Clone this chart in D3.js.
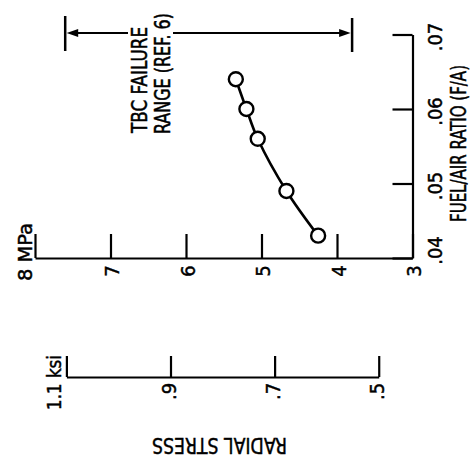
<!DOCTYPE html>
<html>
<head>
<meta charset="utf-8">
<script src="https://cdn.jsdelivr.net/npm/d3@7"></script>
<style>
  html, body { margin: 0; padding: 0; background: #fff; }
  svg { display: block; }
  text { fill: #000; stroke: #000; stroke-width: 0.45px; }
</style>
</head>
<body>
<svg id="chart" width="474" height="466"></svg>
<script>
// ---- data ----
const fuelAirRatio = [0.043, 0.049, 0.056, 0.060, 0.064];
const radialStressMPa = [4.25, 4.67, 5.05, 5.20, 5.34];
const mpaTicks = [8, 7, 6, 5, 4, 3];
const mpaTickLabels = ["8 MPa", "7", "6", "5", "4", "3"];
const ksiTicks = [1.1, 0.9, 0.7, 0.5];
const ksiTickLabels = ["1.1 ksi", ".9", ".7", ".5"];
const faTicks = [0.04, 0.05, 0.06, 0.07];
const faTickLabels = [".04", ".05", ".06", ".07"];
const tbcRangeMPa = [7.6, 3.8];
const tbcFA = 0.0702;
const KSI_PER_MPA = 0.145038;

// ---- layout ----
const svg = d3.select("#chart");
const FONT = "'DejaVu Sans Condensed', 'Liberation Sans Narrow', 'Liberation Sans', sans-serif";

const xS = d3.scaleLinear().domain([8, 3]).range([35, 412.5]);
const yF = d3.scaleLinear().domain([0.04, 0.07]).range([258, 34.5]);
const xK = d3.scaleLinear().domain([1.1, 0.5])
  .range([xS(1.1 / KSI_PER_MPA), xS(0.5 / KSI_PER_MPA)]);

function styleAxis(g) {
  g.select(".domain").attr("stroke", "#000").attr("stroke-width", 2.2);
  g.selectAll(".tick line").attr("stroke", "#000").attr("stroke-width", 2.2);
}

// MPa axis (horizontal, ticks upward)
const gS = svg.append("g").attr("transform", "translate(0,258)")
  .call(d3.axisBottom(xS).tickValues(mpaTicks).tickSizeInner(-24).tickSizeOuter(0)
    .tickFormat((d, i) => mpaTickLabels[i]));
styleAxis(gS);
gS.selectAll(".tick text")
  .attr("font-family", FONT).attr("font-size", 20).attr("fill", "#000")
  .attr("x", 0).attr("y", 0).attr("dy", "0.36em")
  .attr("text-anchor", (d, i) => i === 0 ? "start" : "middle")
  .attr("transform", (d, i) => i === 0 ? "translate(-11,23) rotate(-90)" : "translate(1,13) rotate(-90)")
  .each(function (d, i) { if (i === 0) d3.select(this).attr("textLength", 58).attr("lengthAdjust", "spacingAndGlyphs"); });

// F/A axis (vertical, ticks leftward)
const gF = svg.append("g").attr("transform", `translate(${xS(3)},0)`)
  .call(d3.axisRight(yF).tickValues(faTicks).tickSizeInner(-20).tickSizeOuter(0)
    .tickFormat((d, i) => faTickLabels[i]));
styleAxis(gF);
gF.selectAll(".tick text")
  .attr("font-family", FONT).attr("font-size", 20).attr("fill", "#000")
  .attr("x", 0).attr("y", 0).attr("dy", "0.36em").attr("text-anchor", "middle")
  .attr("transform", (d, i) => i === 0 ? "translate(22,-8) rotate(-90)" : "translate(22,2) rotate(-90)");

// FUEL/AIR label
svg.append("text")
  .attr("transform", "translate(466,222) rotate(-90)")
  .attr("font-family", FONT).attr("font-size", 21)
  .attr("textLength", 157).attr("lengthAdjust", "spacingAndGlyphs")
  .text("FUEL/AIR RATIO (F/A)");

// ksi axis
const gK = svg.append("g").attr("transform", "translate(0,377)")
  .call(d3.axisBottom(xK).tickValues(ksiTicks).tickSizeInner(-21).tickSizeOuter(0)
    .tickFormat((d, i) => ksiTickLabels[i]));
styleAxis(gK);
gK.selectAll(".tick text")
  .attr("font-family", FONT).attr("font-size", 20).attr("fill", "#000")
  .attr("x", 0).attr("y", 0).attr("dy", "0.36em").attr("text-anchor", "start")
  .attr("transform", (d, i) => i === 0 ? "translate(-13,33) rotate(-90)" : "translate(-2,23) rotate(-90)")
  .each(function (d, i) { if (i === 0) d3.select(this).attr("textLength", 55).attr("lengthAdjust", "spacingAndGlyphs"); });

// RADIAL STRESS (upside down)
svg.append("text")
  .attr("transform", "translate(287,438) rotate(180)")
  .attr("font-family", "'DejaVu Sans', sans-serif").attr("font-size", 21)
  .attr("textLength", 135).attr("lengthAdjust", "spacingAndGlyphs")
  .text("RADIAL STRESS");

// TBC failure range annotation
const yT = yF(tbcFA);
const xL = xS(tbcRangeMPa[0]), xR = xS(tbcRangeMPa[1]);
const textBase1 = 147, textBase2 = 171, textStart = 134;
const gapL = textBase1 - 19, gapR = textBase2 + 2;
const ann = svg.append("g").attr("stroke", "#000");
ann.append("line").attr("x1", xL).attr("x2", xL).attr("y1", yT - 17).attr("y2", yT + 18).attr("stroke-width", 2.5);
ann.append("line").attr("x1", xR).attr("x2", xR).attr("y1", yT - 15).attr("y2", yT + 19).attr("stroke-width", 2.5);
ann.append("line").attr("x1", xL + 8).attr("x2", gapL).attr("y1", yT).attr("y2", yT).attr("stroke-width", 1.8);
ann.append("line").attr("x1", gapR).attr("x2", xR - 8).attr("y1", yT).attr("y2", yT).attr("stroke-width", 1.8);
ann.append("path").attr("stroke", "none").attr("fill", "#000")
  .attr("d", `M${xL + 1.5},${yT} L${xL + 13},${yT - 4} L${xL + 13},${yT + 4} Z`);
ann.append("path").attr("stroke", "none").attr("fill", "#000")
  .attr("d", `M${xR - 1.5},${yT} L${xR - 13},${yT - 4} L${xR - 13},${yT + 4} Z`);

svg.append("text")
  .attr("transform", `translate(${textBase1},${textStart - 1}) rotate(-90) scale(1,1.12)`)
  .attr("font-family", FONT).attr("font-size", 18.8)
  .attr("textLength", 106).attr("lengthAdjust", "spacingAndGlyphs")
  .text("TBC FAILURE");
svg.append("text")
  .attr("transform", `translate(${textBase2 - 1},${textStart}) rotate(-90) scale(1,1.2)`)
  .attr("font-family", FONT).attr("font-size", 17.5)
  .attr("textLength", 121).attr("lengthAdjust", "spacingAndGlyphs")
  .text("RANGE (REF. 6)");

// data curve and points
const pts = fuelAirRatio.map((f, i) => ({ f, s: radialStressMPa[i] }));
const line = d3.line().x(d => xS(d.s)).y(d => yF(d.f)).curve(d3.curveCatmullRom.alpha(0.5));
svg.append("path").datum(pts).attr("d", line)
  .attr("fill", "none").attr("stroke", "#000").attr("stroke-width", 2.6);
svg.selectAll("circle.pt").data(pts).enter().append("circle")
  .attr("class", "pt")
  .attr("cx", d => xS(d.s)).attr("cy", d => yF(d.f)).attr("r", 7)
  .attr("fill", "#fff").attr("stroke", "#000").attr("stroke-width", 2.4);
</script>
</body>
</html>
